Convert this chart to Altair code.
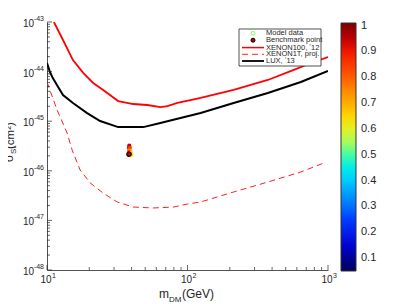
import altair as alt
import pandas as pd

# ---------------- data ----------------
xenon100_m = [11.2, 13.0, 15.3, 18.1, 21.3, 25.1, 32.1, 41.1, 51.8, 64.1, 71.9, 84.8, 105, 124, 213, 373, 571, 756, 1000]
xenon100_s = [1.0e-43, 4.34e-44, 1.71e-44, 9.4e-45, 5.9e-45, 4.26e-45, 2.55e-45, 2.22e-45, 2.12e-45, 1.93e-45, 2.02e-45, 2.33e-45, 2.67e-45, 2.94e-45, 4.26e-45, 6.78e-45, 1.08e-44, 1.49e-44, 1.97e-44]

lux_m = [10.0, 10.5, 11.0, 12.0, 13.0, 15.3, 19.3, 23.9, 32.1, 48.5, 64.1, 89.1, 124, 213, 373, 641, 1000]
lux_s = [1.49e-44, 9.8e-45, 7.4e-45, 4.9e-45, 3.37e-45, 2.33e-45, 1.46e-45, 1.01e-45, 7.6e-46, 7.6e-46, 9.2e-46, 1.16e-45, 1.46e-45, 2.33e-45, 3.71e-45, 6.17e-45, 1.03e-44]

x1t_m = [10.0, 11.8, 13.9, 15.1, 17.2, 20.3, 25.1, 31.6, 41.1, 57.1, 79.4, 100, 124, 213, 373, 641, 935]
x1t_s = [6.17e-45, 1.68e-45, 5.78e-46, 2.62e-46, 1.04e-46, 5.68e-47, 3.56e-47, 2.35e-47, 1.86e-47, 1.78e-47, 1.86e-47, 2.14e-47, 2.35e-47, 3.74e-47, 5.94e-47, 9.46e-47, 1.44e-46]

model_m = [38.5, 38.3, 38.9, 38.6, 39.1, 38.4, 39.4, 39.8, 39.5, 38.0]
model_s = [3.2e-46, 2.9e-46, 2.9e-46, 2.6e-46, 2.5e-46, 2.35e-46, 2.3e-46, 2.15e-46, 2.05e-46, 2.1e-46]
model_c = [0.95, 0.92, 0.85, 0.80, 0.72, 0.90, 0.65, 0.55, 0.60, 0.97]

bench_m = [38.4]
bench_s = [2.17e-46]

x_decades = [10, 100, 1000]
x_exps = ["1", "2", "3"]
x_minor = [20, 30, 40, 50, 60, 70, 80, 90, 200, 300, 400, 500, 600, 700, 800, 900]
y_decades = [1e-48, 1e-47, 1e-46, 1e-45, 1e-44, 1e-43]
y_exps = ["-48", "-47", "-46", "-45", "-44", "-43"]
y_minor = [k * 10.0 ** e for e in range(-48, -43) for k in range(2, 10)]

cbar_ticks = [0.1, 0.2, 0.3, 0.4, 0.5, 0.6, 0.7, 0.8, 0.9, 1.0]
cbar_colors = ["#00005a", "#0000d0", "#0030ff", "#0090ff", "#00e6f4", "#90ff70",
               "#ffe800", "#ff9c00", "#ff4a00", "#ee0000", "#780000"]

legend_names = ["Model data", "Benchmark point", "XENON100, ʼ12", "XENON1T, proj.", "LUX, ʼ13"]

AX = "#262626"
FONT = "Liberation Sans"
W, H = 281, 248

xs = alt.Scale(type="log", domain=[10, 1000])
ys = alt.Scale(type="log", domain=[1e-48, 1e-43])

one = pd.DataFrame({"a": [0]})


def line(ms, ss, color, width, dash=None):
    df = pd.DataFrame({"m": ms, "s": ss})
    kw = dict(color=color, strokeWidth=width, clip=True)
    if dash:
        kw["strokeDash"] = dash
    return alt.Chart(df).mark_line(**kw).encode(
        x=alt.X("m:Q", scale=xs, axis=alt.Axis(values=x_decades, labels=False, ticks=False,
                                                   grid=False, title=None, domainColor=AX)),
        y=alt.Y("s:Q", scale=ys, axis=alt.Axis(values=y_decades, labels=False, ticks=False,
                                                  grid=False, title=None, domainColor=AX)),
    )


l_x100 = line(xenon100_m, xenon100_s, "#ff0000", 1.8)
l_x1t = line(x1t_m, x1t_s, "#ff2020", 1.0, [6, 4])
l_lux = line(lux_m, lux_s, "#000000", 2.0)

model = alt.Chart(pd.DataFrame({"m": model_m, "s": model_s, "c": model_c})).mark_circle(size=18, opacity=1).encode(
    x=alt.X("m:Q", scale=xs),
    y=alt.Y("s:Q", scale=ys),
    color=alt.Color("c:Q", scale=alt.Scale(domain=[0.05, 1.01], range=cbar_colors),
                    legend=alt.Legend(orient="none", legendX=294, legendY=1, direction="vertical",
                                      gradientLength=248, gradientThickness=15, title=None,
                                      values=cbar_ticks, format=".1~f", labelFontSize=11,
                                      labelColor=AX, labelFont=FONT, labelOffset=5,
                                      gradientStrokeColor="#333333", gradientStrokeWidth=1)),
)

bench = alt.Chart(pd.DataFrame({"m": bench_m, "s": bench_s})).mark_point(
    shape="circle", size=22, filled=True, fill="#c00000", stroke="#000000", strokeWidth=1, opacity=1
).encode(x=alt.X("m:Q", scale=xs), y=alt.Y("s:Q", scale=ys))

# inward ticks
xt_major = alt.Chart(pd.DataFrame({"v": x_decades})).mark_rule(color=AX, strokeWidth=0.7).encode(
    x=alt.X("v:Q", scale=xs), y=alt.value(H), y2=alt.value(H - 5))
xt_minor = alt.Chart(pd.DataFrame({"v": x_minor})).mark_rule(color=AX, strokeWidth=0.7).encode(
    x=alt.X("v:Q", scale=xs), y=alt.value(H), y2=alt.value(H - 3))
yt_major = alt.Chart(pd.DataFrame({"v": y_decades})).mark_rule(color=AX, strokeWidth=0.7).encode(
    y=alt.Y("v:Q", scale=ys), x=alt.value(0), x2=alt.value(5))
yt_minor = alt.Chart(pd.DataFrame({"v": y_minor})).mark_rule(color=AX, strokeWidth=0.7).encode(
    y=alt.Y("v:Q", scale=ys), x=alt.value(0), x2=alt.value(3))

# tick labels: "10" with a small exponent
ylab_df = pd.DataFrame({"v": y_decades, "e": y_exps})
ylab_base = alt.Chart(ylab_df).mark_text(text="10", fontSize=10, font=FONT, color=AX, align="right",
                                         baseline="middle", dy=2).encode(
    y=alt.Y("v:Q", scale=ys), x=alt.value(-13))
ylab_exp = alt.Chart(ylab_df).mark_text(fontSize=7, font=FONT, color=AX, align="right",
                                        baseline="middle", dy=-3).encode(
    y=alt.Y("v:Q", scale=ys), x=alt.value(-3), text="e:N")
xlab_df = pd.DataFrame({"v": x_decades, "e": x_exps})
xlab_base = alt.Chart(xlab_df).mark_text(text="10", fontSize=10, font=FONT, color=AX, align="center",
                                         baseline="alphabetic", dx=-1).encode(
    x=alt.X("v:Q", scale=xs), y=alt.value(H + 13))
xlab_exp = alt.Chart(xlab_df).mark_text(fontSize=7, font=FONT, color=AX, align="left",
                                        baseline="alphabetic", dx=5).encode(
    x=alt.X("v:Q", scale=xs), y=alt.value(H + 8), text="e:N")


def txt(s, x, y, size, angle=0, align="left", baseline="alphabetic"):
    kw = dict(text=s, fontSize=size, font=FONT, color=AX, align=align, baseline=baseline)
    if angle:
        kw["angle"] = angle
    return alt.Chart(one).mark_text(**kw).encode(x=alt.value(x), y=alt.value(y))


# axis titles
xt = [txt("m", 112, 276, 12), txt("DM", 122, 280, 8), txt("(GeV)", 135, 276, 12)]
yt = [txt("σ", -34, 140, 12, angle=270), txt("eff", -40, 132, 8, angle=270),
      txt("SI", -31, 132, 8, angle=270), txt("(cm²)", -33, 127, 11.5, angle=270)]

# legend box
box = alt.Chart(one).mark_rect(fill="white", stroke="#262626", strokeWidth=0.8).encode(
    x=alt.value(192), x2=alt.value(274), y=alt.value(7), y2=alt.value(44))
ly = [11.3, 18.2, 25.6, 32.3, 39.0]
leg = [box]
leg.append(alt.Chart(one).mark_point(shape="circle", size=14, filled=False, color="#7cfc66", strokeWidth=1, opacity=1)
           .encode(x=alt.value(206), y=alt.value(ly[0])))
leg.append(alt.Chart(one).mark_point(shape="circle", size=16, filled=True, fill="#c00000", stroke="#000000",
                                     strokeWidth=1, opacity=1).encode(x=alt.value(206), y=alt.value(ly[1])))
leg.append(alt.Chart(one).mark_rule(color="#ff0000", strokeWidth=1.5).encode(
    x=alt.value(195), x2=alt.value(217), y=alt.value(ly[2])))
leg.append(alt.Chart(one).mark_rule(color="#ff2020", strokeWidth=1, strokeDash=[6, 4]).encode(
    x=alt.value(195), x2=alt.value(217), y=alt.value(ly[3])))
leg.append(alt.Chart(one).mark_rule(color="#000000", strokeWidth=1.8).encode(
    x=alt.value(195), x2=alt.value(217), y=alt.value(ly[4])))
for name, yy in zip(legend_names, ly):
    leg.append(txt(name, 219, yy, 7.5, baseline="middle"))

chart = alt.layer(
    l_x1t, l_x100, l_lux, model, bench, xt_major, xt_minor, yt_major, yt_minor,
    ylab_base, ylab_exp, xlab_base, xlab_exp, *xt, *yt, *leg
).properties(
    width=W, height=H,
    autosize=alt.AutoSizeParams(type="none"),
    padding={"left": 39, "top": 14, "right": 69, "bottom": 34},
).configure_view(stroke=None).configure_axis(domainWidth=0.8)

chart.save("out.html", embed_options={"renderer": "svg", "actions": False})
